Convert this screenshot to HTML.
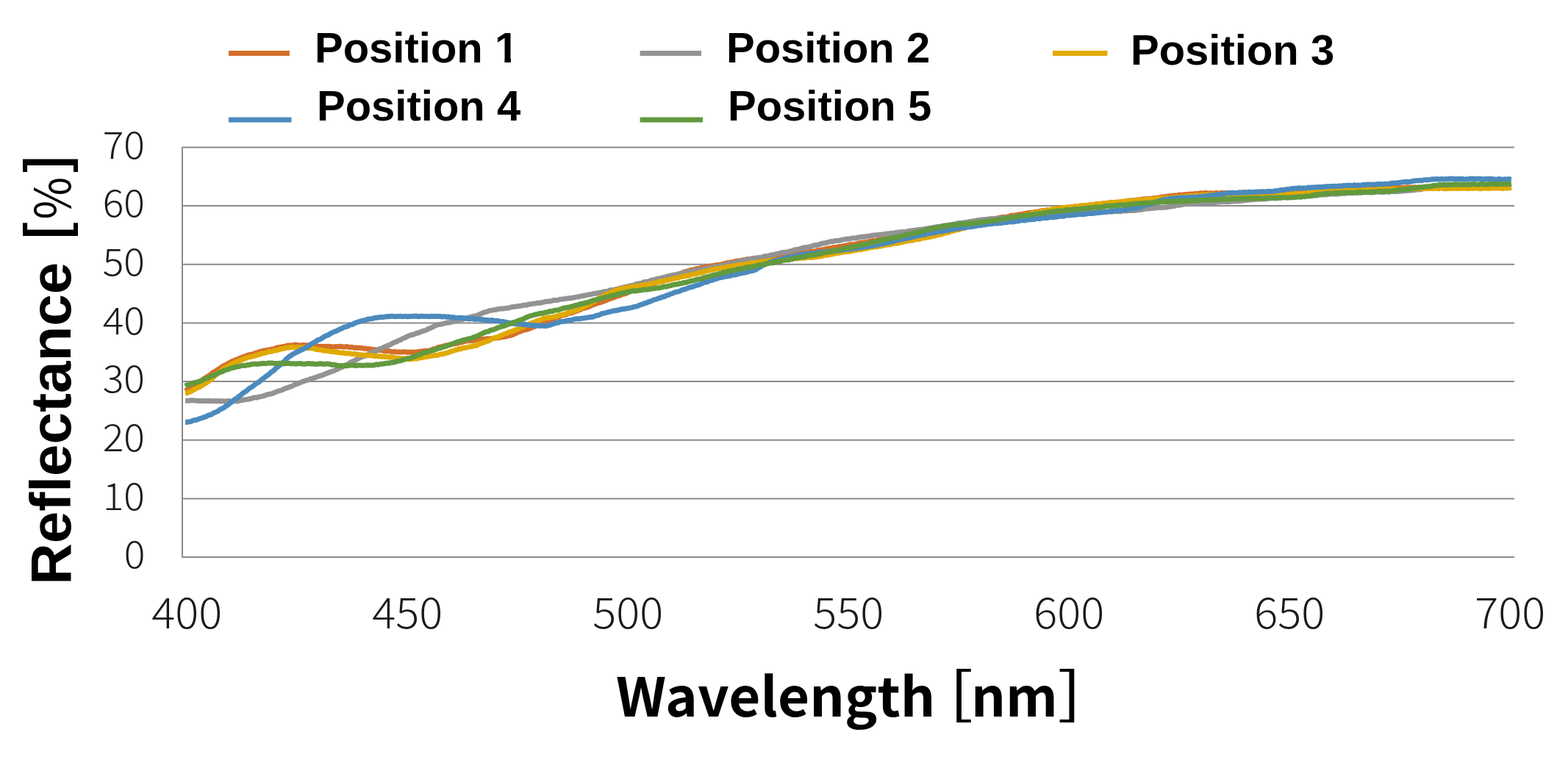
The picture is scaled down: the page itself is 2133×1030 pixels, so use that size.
<!DOCTYPE html>
<html><head><meta charset="utf-8"><style>
html,body{margin:0;padding:0;background:#fff;width:2133px;height:1030px;overflow:hidden}
svg{display:block}
.leg{font-family:"Liberation Sans",Arial,sans-serif;font-weight:bold;font-size:58px;fill:#000}
.yl{font-family:"Noto Sans CJK JP","Liberation Sans",sans-serif;font-weight:300;font-size:51px;fill:#1a1a1a;text-anchor:end}
.xl{font-family:"Noto Sans CJK JP","Liberation Sans",sans-serif;font-weight:300;font-size:57.5px;fill:#1a1a1a;text-anchor:middle}
.yt{font-family:"Liberation Sans",Arial,sans-serif;font-weight:bold;font-size:77px;fill:#000}
.xt{font-family:"Liberation Sans","Noto Sans CJK JP",sans-serif;font-weight:bold;font-size:73.5px;fill:#000}
.xt2{font-family:"Noto Sans CJK JP","Liberation Sans",sans-serif;font-weight:bold;font-size:73.5px;fill:#000}
.ytb{font-family:"Noto Sans CJK JP","Liberation Sans",sans-serif;font-weight:700;font-size:77px;fill:#000}
.ytp{font-family:"Noto Sans CJK JP","Liberation Sans",sans-serif;font-weight:400;font-size:77px;fill:#000}
.br{font-family:"Noto Sans CJK JP","Liberation Sans",sans-serif;font-weight:400;font-size:76px;fill:#000}
</style></head><body>
<svg width="2133" height="1030" viewBox="0 0 2133 1030">
<rect width="2133" height="1030" fill="#fff"/>
<g stroke="#8a8a8a" stroke-width="2" fill="none"><line x1="248" y1="678.4" x2="2060" y2="678.4"/><line x1="248" y1="598.7" x2="2060" y2="598.7"/><line x1="248" y1="519.1" x2="2060" y2="519.1"/><line x1="248" y1="439.4" x2="2060" y2="439.4"/><line x1="248" y1="359.8" x2="2060" y2="359.8"/><line x1="248" y1="280.1" x2="2060" y2="280.1"/><line x1="248" y1="200.5" x2="2060" y2="200.5"/>
<line x1="248" y1="200" x2="248" y2="759"/>
<line x1="247" y1="758" x2="2060" y2="758"/></g>
<g fill="none" stroke-width="7" stroke-linejoin="round" stroke-linecap="butt">
<path d="M252.0 532.0L254.5 530.5L257.0 529.3L259.5 527.3L262.0 525.8L264.5 524.2L267.0 522.3L269.5 520.9L272.0 519.4L274.5 517.9L277.0 515.6L279.5 514.2L282.0 512.3L284.5 511.1L287.0 509.2L289.5 506.8L292.0 505.9L294.5 504.2L297.0 502.4L299.5 500.9L302.0 499.1L304.5 497.5L307.0 496.6L309.5 494.9L312.0 493.7L314.5 492.4L317.0 491.0L319.5 490.2L322.0 489.1L324.5 488.4L327.0 487.0L329.5 486.2L332.0 485.1L334.5 484.4L337.0 483.4L339.5 482.5L342.0 482.3L344.5 481.6L347.0 480.7L349.5 479.9L352.0 478.9L354.5 478.2L357.0 477.7L359.5 476.9L362.0 476.9L364.5 476.0L367.0 475.9L369.5 474.9L372.0 474.9L374.5 474.2L377.0 472.9L379.5 472.5L382.0 472.6L384.5 471.6L387.0 471.6L389.5 470.6L392.0 469.9L394.5 470.1L397.0 470.0L399.5 469.4L402.0 469.1L404.5 469.4L407.0 470.0L409.5 469.9L412.0 469.4L414.5 469.7L417.0 469.7L419.5 469.9L422.0 470.7L424.5 470.3L427.0 470.8L429.5 470.9L432.0 470.9L434.5 471.5L437.0 471.1L439.5 471.6L442.0 471.2L444.5 471.5L447.0 471.3L449.5 471.4L452.0 472.0L454.5 471.9L457.0 471.4L459.5 471.9L462.0 471.3L464.5 471.5L467.0 472.0L469.5 471.9L472.0 471.6L474.5 472.6L477.0 472.2L479.5 472.5L482.0 473.2L484.5 473.1L487.0 473.3L489.5 473.3L492.0 473.5L494.5 474.2L497.0 474.1L499.5 474.7L502.0 474.8L504.5 475.1L507.0 475.8L509.5 475.6L512.0 476.0L514.5 476.6L517.0 476.3L519.5 476.6L522.0 477.6L524.5 477.8L527.0 477.6L529.5 477.7L532.0 478.4L534.5 478.8L537.0 478.2L539.5 479.1L542.0 479.1L544.5 479.0L547.0 478.9L549.5 478.7L552.0 478.7L554.5 479.6L557.0 479.0L559.5 479.3L562.0 478.9L564.5 479.2L567.0 478.9L569.5 478.4L572.0 478.1L574.5 478.3L577.0 477.4L579.5 477.3L582.0 477.2L584.5 476.9L587.0 476.1L589.5 475.0L592.0 474.8L594.5 473.3L597.0 472.4L599.5 471.9L602.0 471.5L604.5 470.5L607.0 470.0L609.5 469.6L612.0 469.2L614.5 468.2L617.0 467.8L619.5 467.7L622.0 467.3L624.5 466.4L627.0 466.0L629.5 465.4L632.0 464.5L634.5 464.0L637.0 463.5L639.5 463.9L642.0 463.4L644.5 463.3L647.0 462.2L649.5 462.4L652.0 462.0L654.5 462.0L657.0 461.4L659.5 461.8L662.0 460.7L664.5 460.9L667.0 460.8L669.5 460.7L672.0 460.3L674.5 459.9L677.0 459.7L679.5 459.4L682.0 458.6L684.5 458.4L687.0 458.2L689.5 457.6L692.0 456.7L694.5 456.4L697.0 455.7L699.5 454.5L702.0 453.5L704.5 452.2L707.0 451.3L709.5 450.4L712.0 449.1L714.5 448.8L717.0 448.3L719.5 447.4L722.0 446.4L724.5 445.2L727.0 444.6L729.5 443.4L732.0 442.3L734.5 441.6L737.0 439.8L739.5 439.3L742.0 437.6L744.5 437.0L747.0 435.8L749.5 434.6L752.0 434.1L754.5 433.0L757.0 432.2L759.5 431.6L762.0 430.2L764.5 429.2L767.0 428.6L769.5 428.2L772.0 427.0L774.5 426.1L777.0 426.0L779.5 424.9L782.0 423.9L784.5 423.4L787.0 422.0L789.5 421.4L792.0 420.0L794.5 419.3L797.0 418.7L799.5 417.9L802.0 416.9L804.5 415.5L807.0 414.8L809.5 413.7L812.0 412.7L814.5 412.1L817.0 411.5L819.5 410.7L822.0 409.7L824.5 409.0L827.0 407.6L829.5 406.6L832.0 405.9L834.5 404.9L837.0 403.9L839.5 403.2L842.0 402.5L844.5 401.5L847.0 400.4L849.5 400.0L852.0 399.2L854.5 397.9L857.0 396.7L859.5 395.8L862.0 395.6L864.5 394.0L867.0 393.8L869.5 392.8L872.0 391.8L874.5 391.4L877.0 389.9L879.5 389.1L882.0 388.6L884.5 387.4L887.0 387.3L889.5 385.9L892.0 385.0L894.5 384.0L897.0 383.7L899.5 382.6L902.0 381.9L904.5 381.0L907.0 380.1L909.5 379.3L912.0 378.0L914.5 376.5L917.0 375.7L919.5 374.4L922.0 373.3L924.5 372.7L927.0 371.9L929.5 370.5L932.0 369.7L934.5 369.0L937.0 368.5L939.5 367.6L942.0 367.1L944.5 366.6L947.0 365.7L949.5 365.6L952.0 365.1L954.5 363.9L957.0 364.2L959.5 363.6L962.0 362.6L964.5 362.4L967.0 362.1L969.5 362.0L972.0 361.0L974.5 360.8L977.0 360.6L979.5 360.1L982.0 359.7L984.5 358.8L987.0 358.4L989.5 357.5L992.0 357.5L994.5 357.0L997.0 356.4L999.5 355.9L1002.0 355.0L1004.5 355.1L1007.0 354.7L1009.5 354.3L1012.0 353.5L1014.5 353.3L1017.0 352.6L1019.5 352.7L1022.0 352.4L1024.5 351.6L1027.0 351.1L1029.5 351.1L1032.0 350.9L1034.5 350.9L1037.0 350.3L1039.5 349.6L1042.0 350.1L1044.5 349.1L1047.0 349.5L1049.5 348.7L1052.0 348.6L1054.5 348.7L1057.0 347.9L1059.5 347.7L1062.0 347.7L1064.5 347.7L1067.0 347.5L1069.5 347.1L1072.0 347.1L1074.5 346.4L1077.0 346.6L1079.5 345.5L1082.0 345.3L1084.5 345.3L1087.0 344.8L1089.5 344.8L1092.0 344.4L1094.5 343.9L1097.0 343.8L1099.5 343.1L1102.0 342.5L1104.5 342.1L1107.0 342.1L1109.5 341.7L1112.0 340.6L1114.5 340.7L1117.0 340.3L1119.5 339.5L1122.0 339.1L1124.5 338.3L1127.0 338.1L1129.5 337.6L1132.0 337.3L1134.5 336.4L1137.0 336.8L1139.5 335.9L1142.0 335.4L1144.5 335.3L1147.0 334.7L1149.5 334.2L1152.0 333.9L1154.5 333.0L1157.0 333.0L1159.5 332.4L1162.0 332.5L1164.5 332.0L1167.0 331.0L1169.5 330.8L1172.0 330.0L1174.5 329.9L1177.0 329.8L1179.5 329.4L1182.0 328.6L1184.5 328.1L1187.0 327.6L1189.5 327.5L1192.0 327.4L1194.5 326.3L1197.0 326.4L1199.5 325.4L1202.0 325.1L1204.5 324.7L1207.0 324.7L1209.5 324.0L1212.0 323.6L1214.5 323.4L1217.0 322.6L1219.5 322.7L1222.0 321.8L1224.5 321.7L1227.0 321.0L1229.5 320.6L1232.0 320.4L1234.5 319.9L1237.0 319.4L1239.5 319.0L1242.0 318.7L1244.5 317.9L1247.0 317.5L1249.5 317.4L1252.0 316.9L1254.5 316.3L1257.0 316.2L1259.5 315.5L1262.0 315.2L1264.5 314.1L1267.0 314.1L1269.5 313.7L1272.0 313.2L1274.5 312.2L1277.0 311.7L1279.5 311.8L1282.0 310.6L1284.5 310.8L1287.0 310.2L1289.5 309.0L1292.0 308.6L1294.5 308.6L1297.0 307.6L1299.5 307.0L1302.0 307.1L1304.5 306.3L1307.0 306.1L1309.5 305.0L1312.0 304.8L1314.5 304.6L1317.0 303.5L1319.5 303.2L1322.0 303.2L1324.5 302.9L1327.0 302.5L1329.5 301.3L1332.0 301.2L1334.5 301.0L1337.0 300.3L1339.5 300.0L1342.0 299.1L1344.5 298.6L1347.0 298.2L1349.5 297.7L1352.0 297.7L1354.5 297.3L1357.0 296.9L1359.5 296.1L1362.0 295.7L1364.5 295.3L1367.0 295.4L1369.5 295.1L1372.0 294.7L1374.5 293.5L1377.0 293.1L1379.5 293.4L1382.0 292.6L1384.5 292.5L1387.0 291.7L1389.5 291.4L1392.0 291.0L1394.5 290.5L1397.0 290.3L1399.5 289.4L1402.0 289.6L1404.5 289.4L1407.0 288.4L1409.5 288.3L1412.0 288.1L1414.5 287.5L1417.0 286.9L1419.5 286.5L1422.0 286.5L1424.5 285.7L1427.0 286.1L1429.5 285.7L1432.0 285.2L1434.5 285.0L1437.0 284.5L1439.5 284.0L1442.0 283.8L1444.5 283.4L1447.0 283.5L1449.5 283.1L1452.0 282.3L1454.5 282.6L1457.0 282.1L1459.5 281.8L1462.0 281.6L1464.5 280.9L1467.0 281.1L1469.5 280.8L1472.0 280.3L1474.5 280.1L1477.0 279.8L1479.5 279.2L1482.0 279.2L1484.5 278.4L1487.0 278.4L1489.5 278.2L1492.0 277.5L1494.5 277.6L1497.0 277.6L1499.5 277.3L1502.0 276.7L1504.5 277.1L1507.0 276.6L1509.5 276.0L1512.0 276.0L1514.5 275.7L1517.0 275.4L1519.5 275.0L1522.0 275.3L1524.5 274.7L1527.0 274.5L1529.5 274.3L1532.0 274.3L1534.5 273.1L1537.0 273.4L1539.5 273.3L1542.0 272.6L1544.5 272.4L1547.0 271.8L1549.5 271.7L1552.0 271.6L1554.5 271.0L1557.0 270.8L1559.5 271.1L1562.0 270.5L1564.5 270.2L1567.0 270.3L1569.5 269.6L1572.0 269.7L1574.5 269.0L1577.0 268.9L1579.5 267.9L1582.0 268.1L1584.5 267.9L1587.0 267.0L1589.5 267.5L1592.0 266.5L1594.5 266.5L1597.0 265.9L1599.5 266.0L1602.0 265.8L1604.5 265.0L1607.0 265.6L1609.5 264.9L1612.0 264.7L1614.5 264.6L1617.0 264.2L1619.5 263.9L1622.0 264.0L1624.5 263.8L1627.0 263.4L1629.5 263.6L1632.0 263.1L1634.5 262.8L1637.0 262.9L1639.5 262.6L1642.0 262.6L1644.5 263.1L1647.0 262.7L1649.5 263.1L1652.0 263.0L1654.5 262.3L1657.0 263.1L1659.5 263.0L1662.0 262.2L1664.5 262.9L1667.0 262.4L1669.5 262.5L1672.0 262.9L1674.5 262.2L1677.0 262.4L1679.5 262.7L1682.0 262.5L1684.5 262.2L1687.0 262.7L1689.5 262.5L1692.0 262.3L1694.5 261.8L1697.0 262.2L1699.5 262.0L1702.0 261.7L1704.5 261.5L1707.0 261.9L1709.5 261.4L1712.0 261.6L1714.5 261.8L1717.0 261.5L1719.5 261.3L1722.0 261.5L1724.5 261.2L1727.0 261.5L1729.5 261.2L1732.0 261.5L1734.5 261.4L1737.0 261.1L1739.5 260.6L1742.0 260.3L1744.5 261.0L1747.0 260.8L1749.5 260.5L1752.0 260.2L1754.5 260.0L1757.0 260.3L1759.5 260.1L1762.0 260.0L1764.5 259.9L1767.0 259.9L1769.5 259.3L1772.0 259.2L1774.5 259.7L1777.0 259.5L1779.5 259.4L1782.0 258.5L1784.5 258.3L1787.0 258.4L1789.5 258.3L1792.0 258.4L1794.5 257.7L1797.0 258.0L1799.5 257.4L1802.0 257.3L1804.5 257.6L1807.0 257.4L1809.5 257.3L1812.0 256.9L1814.5 256.9L1817.0 256.5L1819.5 256.5L1822.0 256.8L1824.5 256.8L1827.0 256.0L1829.5 255.9L1832.0 256.5L1834.5 256.2L1837.0 256.3L1839.5 255.7L1842.0 255.9L1844.5 255.7L1847.0 256.2L1849.5 255.7L1852.0 256.0L1854.5 256.2L1857.0 255.6L1859.5 255.8L1862.0 255.9L1864.5 256.0L1867.0 255.6L1869.5 255.5L1872.0 255.2L1874.5 255.9L1877.0 255.1L1879.5 255.1L1882.0 255.5L1884.5 255.4L1887.0 255.6L1889.5 255.2L1892.0 255.6L1894.5 254.9L1897.0 255.0L1899.5 255.4L1902.0 254.9L1904.5 255.1L1907.0 255.4L1909.5 255.4L1912.0 255.0L1914.5 254.8L1917.0 255.0L1919.5 255.3L1922.0 255.0L1924.5 254.8L1927.0 255.3L1929.5 255.1L1932.0 255.4L1934.5 255.4L1937.0 255.4L1939.5 255.0L1942.0 255.3L1944.5 254.8L1947.0 254.8L1949.5 254.9L1952.0 255.4L1954.5 255.4L1957.0 254.8L1959.5 254.9L1962.0 254.9L1964.5 254.9L1967.0 254.9L1969.5 254.9L1972.0 254.7L1974.5 255.1L1977.0 255.3L1979.5 255.0L1982.0 255.3L1984.5 255.1L1987.0 254.7L1989.5 255.2L1992.0 255.3L1994.5 254.8L1997.0 254.6L1999.5 255.0L2002.0 255.0L2004.5 255.1L2007.0 255.4L2009.5 255.1L2012.0 255.3L2014.5 254.6L2017.0 255.0L2019.5 255.3L2022.0 254.6L2024.5 254.6L2027.0 255.2L2029.5 255.4L2032.0 254.6L2034.5 255.1L2037.0 254.7L2039.5 255.2L2042.0 255.1L2044.5 254.8L2047.0 254.7L2049.5 255.2L2052.0 255.0L2054.5 255.2L2056.0 254.9" stroke="#D46F2B"/>
<path d="M252.0 545.0L254.5 545.2L257.0 545.3L259.5 544.8L262.0 544.8L264.5 545.1L267.0 545.1L269.5 545.6L272.0 545.5L274.5 545.5L277.0 545.5L279.5 545.6L282.0 545.2L284.5 545.5L287.0 545.3L289.5 546.0L292.0 545.3L294.5 546.0L297.0 545.4L299.5 546.0L302.0 545.7L304.5 545.8L307.0 546.2L309.5 545.5L312.0 545.5L314.5 546.3L317.0 545.9L319.5 545.4L322.0 546.0L324.5 545.7L327.0 544.7L329.5 544.6L332.0 543.9L334.5 543.6L337.0 543.4L339.5 542.5L342.0 542.4L344.5 541.3L347.0 540.9L349.5 541.0L352.0 540.1L354.5 539.5L357.0 539.1L359.5 538.3L362.0 537.5L364.5 536.4L367.0 536.3L369.5 535.7L372.0 534.9L374.5 533.7L377.0 532.6L379.5 531.8L382.0 531.2L384.5 530.3L387.0 528.9L389.5 528.1L392.0 527.2L394.5 526.3L397.0 525.5L399.5 524.2L402.0 522.7L404.5 522.4L407.0 521.1L409.5 520.2L412.0 519.0L414.5 518.3L417.0 517.4L419.5 517.0L422.0 515.6L424.5 515.2L427.0 514.1L429.5 513.8L432.0 512.4L434.5 511.7L437.0 510.9L439.5 510.3L442.0 508.8L444.5 508.2L447.0 507.0L449.5 506.1L452.0 505.2L454.5 504.5L457.0 503.0L459.5 502.3L462.0 500.5L464.5 500.0L467.0 498.3L469.5 496.9L472.0 496.2L474.5 495.0L477.0 492.9L479.5 491.8L482.0 491.0L484.5 489.4L487.0 488.1L489.5 486.7L492.0 485.6L494.5 485.0L497.0 484.2L499.5 483.1L502.0 481.5L504.5 480.0L507.0 479.1L509.5 478.4L512.0 477.4L514.5 476.1L517.0 474.6L519.5 473.7L522.0 472.6L524.5 471.6L527.0 470.2L529.5 469.7L532.0 468.5L534.5 466.7L537.0 465.7L539.5 465.0L542.0 463.3L544.5 462.7L547.0 461.1L549.5 460.1L552.0 459.0L554.5 457.5L557.0 456.6L559.5 455.7L562.0 455.2L564.5 454.4L567.0 453.1L569.5 452.9L572.0 451.7L574.5 450.7L577.0 449.9L579.5 449.4L582.0 447.8L584.5 446.7L587.0 445.7L589.5 444.5L592.0 443.2L594.5 442.1L597.0 441.6L599.5 441.3L602.0 440.7L604.5 440.1L607.0 439.4L609.5 439.0L612.0 438.8L614.5 438.1L617.0 437.0L619.5 437.0L622.0 436.5L624.5 435.8L627.0 435.2L629.5 434.6L632.0 433.6L634.5 433.2L637.0 432.2L639.5 431.4L642.0 430.9L644.5 430.2L647.0 430.0L649.5 429.0L652.0 427.9L654.5 427.0L657.0 425.5L659.5 424.9L662.0 424.2L664.5 423.2L667.0 422.5L669.5 422.1L672.0 421.6L674.5 421.5L677.0 420.6L679.5 420.2L682.0 420.0L684.5 419.9L687.0 419.6L689.5 419.2L692.0 419.1L694.5 418.2L697.0 417.5L699.5 417.6L702.0 417.1L704.5 416.5L707.0 416.5L709.5 415.9L712.0 415.4L714.5 415.0L717.0 415.2L719.5 413.9L722.0 413.8L724.5 413.4L727.0 412.9L729.5 412.7L732.0 412.1L734.5 412.3L737.0 411.5L739.5 411.2L742.0 410.3L744.5 410.2L747.0 409.9L749.5 409.7L752.0 408.8L754.5 408.5L757.0 408.5L759.5 408.1L762.0 407.2L764.5 407.1L767.0 406.9L769.5 406.3L772.0 406.1L774.5 405.8L777.0 405.7L779.5 404.9L782.0 404.7L784.5 404.0L787.0 403.9L789.5 403.1L792.0 402.8L794.5 402.3L797.0 401.8L799.5 401.1L802.0 400.7L804.5 400.5L807.0 399.7L809.5 399.0L812.0 399.2L814.5 398.2L817.0 398.3L819.5 397.4L822.0 396.7L824.5 396.6L827.0 396.1L829.5 395.1L832.0 394.4L834.5 394.3L837.0 393.9L839.5 393.2L842.0 392.8L844.5 391.9L847.0 391.5L849.5 390.6L852.0 390.2L854.5 389.6L857.0 389.0L859.5 388.4L862.0 388.2L864.5 386.9L867.0 386.3L869.5 385.7L872.0 385.6L874.5 384.5L877.0 383.4L879.5 383.4L882.0 382.8L884.5 382.1L887.0 381.1L889.5 380.8L892.0 379.8L894.5 379.1L897.0 379.1L899.5 378.5L902.0 377.4L904.5 377.4L907.0 376.1L909.5 375.8L912.0 374.9L914.5 374.5L917.0 374.0L919.5 373.9L922.0 373.0L924.5 372.4L927.0 371.8L929.5 371.4L932.0 371.4L934.5 370.6L937.0 369.6L939.5 369.7L942.0 369.0L944.5 368.4L947.0 368.0L949.5 367.6L952.0 367.3L954.5 366.5L957.0 366.1L959.5 365.5L962.0 365.2L964.5 364.5L967.0 364.0L969.5 363.6L972.0 363.3L974.5 362.4L977.0 362.5L979.5 361.6L982.0 361.4L984.5 360.7L987.0 360.4L989.5 359.6L992.0 358.8L994.5 358.3L997.0 357.9L999.5 357.5L1002.0 357.0L1004.5 355.8L1007.0 355.2L1009.5 354.7L1012.0 354.1L1014.5 353.5L1017.0 353.0L1019.5 352.7L1022.0 352.0L1024.5 352.0L1027.0 351.5L1029.5 351.3L1032.0 350.9L1034.5 350.2L1037.0 350.0L1039.5 348.7L1042.0 348.4L1044.5 348.5L1047.0 347.6L1049.5 346.8L1052.0 346.8L1054.5 345.9L1057.0 345.5L1059.5 344.8L1062.0 344.1L1064.5 343.5L1067.0 343.4L1069.5 343.1L1072.0 342.6L1074.5 341.8L1077.0 341.4L1079.5 340.4L1082.0 339.7L1084.5 339.7L1087.0 338.9L1089.5 338.4L1092.0 337.2L1094.5 336.8L1097.0 336.5L1099.5 336.1L1102.0 335.6L1104.5 334.9L1107.0 334.0L1109.5 333.4L1112.0 333.2L1114.5 332.8L1117.0 331.7L1119.5 330.9L1122.0 330.7L1124.5 330.1L1127.0 329.5L1129.5 328.8L1132.0 328.5L1134.5 328.3L1137.0 327.4L1139.5 327.4L1142.0 327.3L1144.5 326.7L1147.0 325.9L1149.5 325.7L1152.0 325.0L1154.5 325.2L1157.0 324.7L1159.5 324.0L1162.0 324.0L1164.5 323.7L1167.0 323.3L1169.5 322.8L1172.0 322.4L1174.5 322.1L1177.0 322.3L1179.5 321.4L1182.0 321.2L1184.5 320.8L1187.0 320.3L1189.5 320.1L1192.0 319.7L1194.5 319.5L1197.0 319.2L1199.5 318.9L1202.0 319.1L1204.5 318.2L1207.0 318.0L1209.5 318.0L1212.0 317.4L1214.5 317.2L1217.0 317.1L1219.5 316.2L1222.0 316.5L1224.5 315.7L1227.0 315.5L1229.5 315.7L1232.0 315.5L1234.5 314.9L1237.0 314.1L1239.5 314.0L1242.0 313.5L1244.5 313.7L1247.0 312.8L1249.5 312.4L1252.0 312.4L1254.5 312.0L1257.0 311.6L1259.5 311.1L1262.0 311.1L1264.5 310.3L1267.0 310.3L1269.5 309.4L1272.0 309.1L1274.5 308.6L1277.0 308.5L1279.5 308.1L1282.0 307.2L1284.5 307.1L1287.0 306.8L1289.5 306.2L1292.0 306.0L1294.5 305.5L1297.0 305.2L1299.5 304.5L1302.0 304.0L1304.5 303.4L1307.0 303.8L1309.5 303.3L1312.0 302.6L1314.5 302.7L1317.0 302.2L1319.5 301.2L1322.0 301.4L1324.5 300.6L1327.0 300.2L1329.5 299.8L1332.0 299.6L1334.5 299.0L1337.0 298.8L1339.5 298.5L1342.0 298.5L1344.5 298.1L1347.0 297.8L1349.5 298.2L1352.0 297.5L1354.5 297.4L1357.0 297.2L1359.5 297.3L1362.0 296.4L1364.5 296.2L1367.0 296.6L1369.5 296.4L1372.0 296.2L1374.5 295.6L1377.0 295.3L1379.5 294.9L1382.0 295.3L1384.5 295.0L1387.0 294.6L1389.5 294.6L1392.0 294.0L1394.5 294.0L1397.0 294.2L1399.5 293.3L1402.0 293.6L1404.5 293.0L1407.0 293.4L1409.5 293.2L1412.0 292.9L1414.5 292.5L1417.0 292.0L1419.5 292.3L1422.0 292.0L1424.5 291.9L1427.0 291.4L1429.5 292.0L1432.0 291.5L1434.5 291.4L1437.0 291.5L1439.5 291.4L1442.0 290.9L1444.5 290.8L1447.0 290.9L1449.5 290.4L1452.0 290.7L1454.5 289.8L1457.0 290.4L1459.5 290.0L1462.0 290.0L1464.5 290.2L1467.0 289.4L1469.5 289.5L1472.0 289.7L1474.5 289.6L1477.0 289.3L1479.5 289.4L1482.0 289.2L1484.5 289.3L1487.0 289.0L1489.5 288.7L1492.0 288.5L1494.5 288.2L1497.0 288.2L1499.5 288.0L1502.0 288.7L1504.5 287.9L1507.0 288.2L1509.5 287.7L1512.0 288.3L1514.5 287.8L1517.0 287.3L1519.5 287.8L1522.0 287.7L1524.5 287.7L1527.0 286.9L1529.5 286.9L1532.0 287.0L1534.5 286.5L1537.0 286.6L1539.5 286.5L1542.0 286.4L1544.5 286.2L1547.0 285.9L1549.5 285.3L1552.0 285.4L1554.5 284.8L1557.0 284.3L1559.5 283.9L1562.0 284.1L1564.5 283.6L1567.0 283.1L1569.5 283.2L1572.0 282.9L1574.5 282.6L1577.0 282.6L1579.5 282.4L1582.0 282.1L1584.5 282.3L1587.0 282.0L1589.5 281.1L1592.0 281.3L1594.5 280.4L1597.0 280.5L1599.5 279.3L1602.0 279.1L1604.5 279.2L1607.0 278.6L1609.5 278.3L1612.0 277.5L1614.5 277.2L1617.0 277.8L1619.5 276.8L1622.0 276.7L1624.5 276.8L1627.0 277.0L1629.5 276.7L1632.0 276.9L1634.5 276.5L1637.0 276.1L1639.5 276.4L1642.0 275.8L1644.5 275.4L1647.0 276.1L1649.5 275.9L1652.0 275.6L1654.5 275.3L1657.0 274.9L1659.5 274.8L1662.0 274.5L1664.5 274.3L1667.0 274.5L1669.5 274.7L1672.0 274.6L1674.5 274.0L1677.0 274.0L1679.5 273.6L1682.0 273.7L1684.5 273.5L1687.0 273.5L1689.5 273.2L1692.0 272.8L1694.5 272.6L1697.0 272.0L1699.5 272.1L1702.0 271.9L1704.5 271.4L1707.0 271.2L1709.5 271.2L1712.0 270.8L1714.5 271.0L1717.0 270.6L1719.5 271.0L1722.0 270.5L1724.5 270.2L1727.0 269.9L1729.5 269.7L1732.0 269.4L1734.5 269.9L1737.0 269.7L1739.5 269.2L1742.0 269.1L1744.5 268.4L1747.0 268.6L1749.5 268.1L1752.0 268.1L1754.5 268.1L1757.0 267.6L1759.5 267.5L1762.0 267.8L1764.5 267.4L1767.0 267.6L1769.5 266.7L1772.0 266.5L1774.5 267.1L1777.0 266.6L1779.5 266.5L1782.0 266.2L1784.5 265.7L1787.0 266.3L1789.5 265.7L1792.0 265.9L1794.5 265.0L1797.0 265.0L1799.5 265.1L1802.0 264.6L1804.5 265.0L1807.0 264.3L1809.5 264.0L1812.0 263.9L1814.5 263.8L1817.0 264.3L1819.5 264.0L1822.0 263.7L1824.5 263.3L1827.0 262.8L1829.5 263.3L1832.0 262.6L1834.5 262.5L1837.0 262.6L1839.5 262.8L1842.0 262.1L1844.5 261.9L1847.0 262.6L1849.5 261.7L1852.0 262.3L1854.5 261.6L1857.0 261.7L1859.5 261.6L1862.0 261.7L1864.5 262.1L1867.0 261.9L1869.5 261.6L1872.0 261.1L1874.5 261.1L1877.0 261.2L1879.5 261.5L1882.0 261.6L1884.5 260.7L1887.0 260.9L1889.5 261.4L1892.0 260.5L1894.5 260.4L1897.0 260.4L1899.5 260.9L1902.0 260.2L1904.5 260.4L1907.0 259.7L1909.5 260.0L1912.0 259.3L1914.5 259.4L1917.0 259.3L1919.5 259.1L1922.0 258.5L1924.5 258.7L1927.0 257.8L1929.5 258.0L1932.0 257.7L1934.5 257.4L1937.0 256.3L1939.5 256.2L1942.0 256.3L1944.5 256.2L1947.0 255.3L1949.5 255.5L1952.0 255.1L1954.5 254.4L1957.0 254.3L1959.5 254.1L1962.0 254.1L1964.5 254.6L1967.0 254.3L1969.5 254.3L1972.0 254.2L1974.5 253.6L1977.0 253.7L1979.5 253.6L1982.0 253.5L1984.5 252.8L1987.0 253.4L1989.5 252.6L1992.0 252.8L1994.5 252.9L1997.0 252.8L1999.5 252.7L2002.0 252.2L2004.5 252.0L2007.0 252.3L2009.5 251.6L2012.0 252.3L2014.5 251.7L2017.0 251.6L2019.5 251.5L2022.0 251.8L2024.5 251.2L2027.0 251.1L2029.5 251.0L2032.0 251.0L2034.5 251.4L2037.0 251.6L2039.5 250.7L2042.0 251.1L2044.5 250.9L2047.0 250.9L2049.5 250.9L2052.0 250.7L2054.5 250.9L2056.0 250.8" stroke="#939393"/>
<path d="M252.0 535.2L254.5 534.7L257.0 533.7L259.5 532.8L262.0 531.1L264.5 529.9L267.0 528.5L269.5 527.3L272.0 526.4L274.5 524.4L277.0 523.3L279.5 521.5L282.0 519.9L284.5 518.1L287.0 516.5L289.5 514.1L292.0 511.3L294.5 509.2L297.0 506.9L299.5 505.4L302.0 503.4L304.5 501.6L307.0 500.1L309.5 498.6L312.0 497.5L314.5 496.0L317.0 494.3L319.5 493.7L322.0 492.2L324.5 491.4L327.0 490.3L329.5 489.2L332.0 488.2L334.5 487.4L337.0 486.5L339.5 485.5L342.0 485.4L344.5 484.6L347.0 484.1L349.5 483.1L352.0 482.3L354.5 481.8L357.0 480.7L359.5 480.5L362.0 479.8L364.5 478.9L367.0 478.4L369.5 478.2L372.0 477.3L374.5 476.9L377.0 476.5L379.5 475.7L382.0 474.9L384.5 474.6L387.0 473.9L389.5 473.4L392.0 473.0L394.5 472.8L397.0 472.3L399.5 472.6L402.0 472.8L404.5 472.3L407.0 472.7L409.5 473.0L412.0 472.4L414.5 472.7L417.0 473.5L419.5 473.8L422.0 473.8L424.5 473.7L427.0 474.3L429.5 475.2L432.0 475.6L434.5 476.0L437.0 475.9L439.5 476.9L442.0 476.9L444.5 477.6L447.0 477.4L449.5 478.5L452.0 478.5L454.5 478.9L457.0 478.8L459.5 479.5L462.0 479.7L464.5 480.0L467.0 480.1L469.5 480.7L472.0 480.7L474.5 480.9L477.0 481.1L479.5 481.8L482.0 481.6L484.5 481.9L487.0 482.1L489.5 482.8L492.0 483.0L494.5 483.2L497.0 483.0L499.5 483.6L502.0 483.7L504.5 483.7L507.0 483.8L509.5 484.9L512.0 484.3L514.5 484.7L517.0 484.8L519.5 485.3L522.0 485.0L524.5 485.5L527.0 485.6L529.5 486.2L532.0 485.7L534.5 486.2L537.0 486.6L539.5 487.3L542.0 487.2L544.5 487.5L547.0 488.0L549.5 487.9L552.0 487.9L554.5 488.5L557.0 488.9L559.5 488.6L562.0 488.0L564.5 488.1L567.0 488.0L569.5 487.1L572.0 486.9L574.5 486.3L577.0 485.8L579.5 485.5L582.0 485.0L584.5 484.8L587.0 484.1L589.5 484.0L592.0 483.3L594.5 483.4L597.0 482.8L599.5 481.8L602.0 482.0L604.5 480.9L607.0 480.5L609.5 479.8L612.0 478.8L614.5 477.9L617.0 477.2L619.5 476.1L622.0 476.0L624.5 474.6L627.0 474.7L629.5 473.6L632.0 473.3L634.5 473.0L637.0 472.2L639.5 471.8L642.0 471.4L644.5 470.7L647.0 470.3L649.5 469.6L652.0 467.8L654.5 467.3L657.0 466.0L659.5 465.6L662.0 464.2L664.5 463.8L667.0 462.5L669.5 461.2L672.0 460.0L674.5 459.2L677.0 458.8L679.5 457.1L682.0 456.4L684.5 455.2L687.0 454.2L689.5 453.6L692.0 452.1L694.5 451.6L697.0 450.5L699.5 449.8L702.0 448.4L704.5 447.8L707.0 446.3L709.5 445.4L712.0 444.4L714.5 443.6L717.0 442.6L719.5 440.9L722.0 439.9L724.5 439.2L727.0 438.4L729.5 437.1L732.0 436.0L734.5 435.7L737.0 434.3L739.5 433.5L742.0 432.9L744.5 432.3L747.0 432.4L749.5 431.4L752.0 431.4L754.5 431.0L757.0 430.4L759.5 429.6L762.0 428.6L764.5 428.1L767.0 427.6L769.5 426.7L772.0 425.6L774.5 425.2L777.0 423.8L779.5 423.2L782.0 422.9L784.5 421.6L787.0 420.5L789.5 420.0L792.0 418.6L794.5 417.1L797.0 415.8L799.5 414.7L802.0 413.3L804.5 412.4L807.0 410.3L809.5 409.3L812.0 407.8L814.5 405.9L817.0 405.0L819.5 403.4L822.0 401.9L824.5 400.5L827.0 399.5L829.5 398.8L832.0 397.4L834.5 396.1L837.0 395.3L839.5 394.6L842.0 393.7L844.5 393.4L847.0 392.4L849.5 392.6L852.0 391.5L854.5 390.9L857.0 390.9L859.5 390.3L862.0 390.4L864.5 389.6L867.0 389.3L869.5 389.1L872.0 388.2L874.5 388.3L877.0 387.8L879.5 387.2L882.0 387.2L884.5 385.9L887.0 386.1L889.5 385.0L892.0 385.1L894.5 383.9L897.0 383.3L899.5 383.1L902.0 383.0L904.5 381.8L907.0 381.4L909.5 381.0L912.0 380.1L914.5 379.7L917.0 378.7L919.5 378.5L922.0 378.2L924.5 377.2L927.0 376.6L929.5 375.8L932.0 375.9L934.5 375.0L937.0 374.9L939.5 374.2L942.0 373.0L944.5 373.1L947.0 372.6L949.5 371.9L952.0 371.3L954.5 370.6L957.0 370.0L959.5 369.4L962.0 368.7L964.5 367.9L967.0 367.2L969.5 367.2L972.0 366.5L974.5 365.5L977.0 365.6L979.5 365.1L982.0 364.5L984.5 364.3L987.0 363.9L989.5 363.0L992.0 363.0L994.5 362.3L997.0 362.0L999.5 361.4L1002.0 361.5L1004.5 360.6L1007.0 360.7L1009.5 359.8L1012.0 359.7L1014.5 359.5L1017.0 359.0L1019.5 358.3L1022.0 357.7L1024.5 357.7L1027.0 357.2L1029.5 357.2L1032.0 356.8L1034.5 356.6L1037.0 355.8L1039.5 355.5L1042.0 355.3L1044.5 355.2L1047.0 354.4L1049.5 354.3L1052.0 354.0L1054.5 353.9L1057.0 353.7L1059.5 354.1L1062.0 353.2L1064.5 353.7L1067.0 352.9L1069.5 352.6L1072.0 353.1L1074.5 352.2L1077.0 352.0L1079.5 351.8L1082.0 351.6L1084.5 351.7L1087.0 351.3L1089.5 351.1L1092.0 350.7L1094.5 351.1L1097.0 350.3L1099.5 350.3L1102.0 350.3L1104.5 350.4L1107.0 349.9L1109.5 349.6L1112.0 349.3L1114.5 349.1L1117.0 348.8L1119.5 347.7L1122.0 347.2L1124.5 347.3L1127.0 346.8L1129.5 346.3L1132.0 346.1L1134.5 345.1L1137.0 345.1L1139.5 344.4L1142.0 344.0L1144.5 343.4L1147.0 343.0L1149.5 342.9L1152.0 342.5L1154.5 342.4L1157.0 341.4L1159.5 341.4L1162.0 340.4L1164.5 340.5L1167.0 339.6L1169.5 339.8L1172.0 339.5L1174.5 338.5L1177.0 338.5L1179.5 337.6L1182.0 337.3L1184.5 336.7L1187.0 336.5L1189.5 335.8L1192.0 336.0L1194.5 335.4L1197.0 334.9L1199.5 334.7L1202.0 333.9L1204.5 333.5L1207.0 333.1L1209.5 332.4L1212.0 332.7L1214.5 331.6L1217.0 331.1L1219.5 331.3L1222.0 330.9L1224.5 330.0L1227.0 329.6L1229.5 328.8L1232.0 328.2L1234.5 328.2L1237.0 327.5L1239.5 326.9L1242.0 327.1L1244.5 325.8L1247.0 325.6L1249.5 325.5L1252.0 325.0L1254.5 323.9L1257.0 324.0L1259.5 323.3L1262.0 322.8L1264.5 322.6L1267.0 321.9L1269.5 321.2L1272.0 320.8L1274.5 320.0L1277.0 319.5L1279.5 319.1L1282.0 318.3L1284.5 317.5L1287.0 316.5L1289.5 316.5L1292.0 315.4L1294.5 314.8L1297.0 314.0L1299.5 313.5L1302.0 312.7L1304.5 312.4L1307.0 311.5L1309.5 310.7L1312.0 310.3L1314.5 309.3L1317.0 308.7L1319.5 308.2L1322.0 307.6L1324.5 307.0L1327.0 306.5L1329.5 305.7L1332.0 305.1L1334.5 304.3L1337.0 303.8L1339.5 303.5L1342.0 303.0L1344.5 302.9L1347.0 301.7L1349.5 301.5L1352.0 301.4L1354.5 300.7L1357.0 300.6L1359.5 299.5L1362.0 299.6L1364.5 298.8L1367.0 298.5L1369.5 297.6L1372.0 297.4L1374.5 297.3L1377.0 296.8L1379.5 296.2L1382.0 295.5L1384.5 294.7L1387.0 294.7L1389.5 294.0L1392.0 293.6L1394.5 293.0L1397.0 292.2L1399.5 292.1L1402.0 290.8L1404.5 291.0L1407.0 289.6L1409.5 289.8L1412.0 288.9L1414.5 288.2L1417.0 288.1L1419.5 287.2L1422.0 286.7L1424.5 285.8L1427.0 286.0L1429.5 285.3L1432.0 284.5L1434.5 284.0L1437.0 283.9L1439.5 284.0L1442.0 283.6L1444.5 282.9L1447.0 282.2L1449.5 282.6L1452.0 281.7L1454.5 281.9L1457.0 281.4L1459.5 281.6L1462.0 280.6L1464.5 280.9L1467.0 280.6L1469.5 279.8L1472.0 280.0L1474.5 279.5L1477.0 279.6L1479.5 279.6L1482.0 279.1L1484.5 278.7L1487.0 278.6L1489.5 278.0L1492.0 277.9L1494.5 277.3L1497.0 277.6L1499.5 276.7L1502.0 276.9L1504.5 276.3L1507.0 276.4L1509.5 275.6L1512.0 275.3L1514.5 275.6L1517.0 275.4L1519.5 275.3L1522.0 274.9L1524.5 274.9L1527.0 273.9L1529.5 274.1L1532.0 273.8L1534.5 273.2L1537.0 272.9L1539.5 272.8L1542.0 272.9L1544.5 272.9L1547.0 272.6L1549.5 272.3L1552.0 271.7L1554.5 272.1L1557.0 271.7L1559.5 271.2L1562.0 271.4L1564.5 270.9L1567.0 270.8L1569.5 270.7L1572.0 270.8L1574.5 270.1L1577.0 270.2L1579.5 269.8L1582.0 270.0L1584.5 270.0L1587.0 269.3L1589.5 269.5L1592.0 269.1L1594.5 268.6L1597.0 268.5L1599.5 268.5L1602.0 268.5L1604.5 268.2L1607.0 267.4L1609.5 267.9L1612.0 267.5L1614.5 267.2L1617.0 266.8L1619.5 266.8L1622.0 266.8L1624.5 266.1L1627.0 265.8L1629.5 266.2L1632.0 265.6L1634.5 265.1L1637.0 265.7L1639.5 264.8L1642.0 264.9L1644.5 265.1L1647.0 265.0L1649.5 265.1L1652.0 264.4L1654.5 264.7L1657.0 264.9L1659.5 264.4L1662.0 264.6L1664.5 264.3L1667.0 264.4L1669.5 264.6L1672.0 264.0L1674.5 264.3L1677.0 263.9L1679.5 264.3L1682.0 264.2L1684.5 264.2L1687.0 264.2L1689.5 263.9L1692.0 264.2L1694.5 263.5L1697.0 263.9L1699.5 263.4L1702.0 263.9L1704.5 264.0L1707.0 263.6L1709.5 264.1L1712.0 263.7L1714.5 263.6L1717.0 263.6L1719.5 263.9L1722.0 263.8L1724.5 263.5L1727.0 263.7L1729.5 264.3L1732.0 263.9L1734.5 264.1L1737.0 263.9L1739.5 263.6L1742.0 264.1L1744.5 263.7L1747.0 263.6L1749.5 264.1L1752.0 264.2L1754.5 263.6L1757.0 264.4L1759.5 263.5L1762.0 263.5L1764.5 263.5L1767.0 263.8L1769.5 263.5L1772.0 263.2L1774.5 262.7L1777.0 262.8L1779.5 261.8L1782.0 262.3L1784.5 261.2L1787.0 261.0L1789.5 261.4L1792.0 261.2L1794.5 261.0L1797.0 260.4L1799.5 260.8L1802.0 260.3L1804.5 259.9L1807.0 259.7L1809.5 260.3L1812.0 259.3L1814.5 259.3L1817.0 259.3L1819.5 259.7L1822.0 259.5L1824.5 259.4L1827.0 259.1L1829.5 258.4L1832.0 259.0L1834.5 258.4L1837.0 259.0L1839.5 258.9L1842.0 258.1L1844.5 258.6L1847.0 258.1L1849.5 257.9L1852.0 258.5L1854.5 258.1L1857.0 257.9L1859.5 258.1L1862.0 257.6L1864.5 257.9L1867.0 258.0L1869.5 258.2L1872.0 257.4L1874.5 258.1L1877.0 257.3L1879.5 257.4L1882.0 257.5L1884.5 257.3L1887.0 257.2L1889.5 257.6L1892.0 257.4L1894.5 257.1L1897.0 257.4L1899.5 257.0L1902.0 257.4L1904.5 257.6L1907.0 257.1L1909.5 257.0L1912.0 257.0L1914.5 256.9L1917.0 256.8L1919.5 256.6L1922.0 256.6L1924.5 256.9L1927.0 256.7L1929.5 256.3L1932.0 256.3L1934.5 256.8L1937.0 256.4L1939.5 256.7L1942.0 256.5L1944.5 256.5L1947.0 256.2L1949.5 256.4L1952.0 256.2L1954.5 256.3L1957.0 256.7L1959.5 255.9L1962.0 256.0L1964.5 256.7L1967.0 256.7L1969.5 256.6L1972.0 256.6L1974.5 255.9L1977.0 256.5L1979.5 256.0L1982.0 256.6L1984.5 256.2L1987.0 256.3L1989.5 256.3L1992.0 256.0L1994.5 256.4L1997.0 256.6L1999.5 256.3L2002.0 256.2L2004.5 256.2L2007.0 256.0L2009.5 256.1L2012.0 256.6L2014.5 256.7L2017.0 256.2L2019.5 256.1L2022.0 256.1L2024.5 256.6L2027.0 256.0L2029.5 256.0L2032.0 256.1L2034.5 255.8L2037.0 255.9L2039.5 255.9L2042.0 256.3L2044.5 256.5L2047.0 255.9L2049.5 255.9L2052.0 256.1L2054.5 255.6L2056.0 255.6" stroke="#E0AA02"/>
<path d="M252.0 574.3L254.5 574.4L257.0 573.9L259.5 573.6L262.0 572.3L264.5 571.6L267.0 571.4L269.5 570.5L272.0 569.4L274.5 568.9L277.0 567.8L279.5 567.2L282.0 565.7L284.5 564.8L287.0 564.3L289.5 562.6L292.0 561.3L294.5 560.5L297.0 559.0L299.5 557.1L302.0 556.1L304.5 554.7L307.0 552.7L309.5 551.4L312.0 549.2L314.5 547.5L317.0 545.3L319.5 543.4L322.0 542.1L324.5 539.6L327.0 538.2L329.5 535.7L332.0 534.0L334.5 532.4L337.0 530.4L339.5 528.2L342.0 526.8L344.5 525.1L347.0 522.9L349.5 521.1L352.0 520.0L354.5 517.8L357.0 515.6L359.5 514.0L362.0 511.8L364.5 510.4L367.0 508.2L369.5 505.9L372.0 504.5L374.5 501.8L377.0 499.9L379.5 497.6L382.0 496.1L384.5 493.4L387.0 491.5L389.5 488.5L392.0 486.4L394.5 484.5L397.0 482.8L399.5 481.3L402.0 480.0L404.5 478.8L407.0 477.8L409.5 476.2L412.0 475.3L414.5 473.6L417.0 472.7L419.5 471.2L422.0 468.9L424.5 467.4L427.0 466.3L429.5 464.8L432.0 462.8L434.5 462.0L437.0 460.9L439.5 459.0L442.0 457.6L444.5 456.5L447.0 455.6L449.5 453.8L452.0 452.6L454.5 451.3L457.0 450.6L459.5 449.3L462.0 448.0L464.5 447.1L467.0 445.7L469.5 444.9L472.0 444.4L474.5 443.0L477.0 441.7L479.5 441.4L482.0 439.9L484.5 439.0L487.0 438.0L489.5 437.3L492.0 436.6L494.5 435.9L497.0 435.7L499.5 434.5L502.0 433.9L504.5 433.7L507.0 433.4L509.5 432.5L512.0 432.5L514.5 431.8L517.0 431.7L519.5 431.4L522.0 431.4L524.5 431.0L527.0 430.5L529.5 430.7L532.0 430.2L534.5 430.2L537.0 430.7L539.5 430.4L542.0 430.6L544.5 430.2L547.0 430.8L549.5 430.6L552.0 430.3L554.5 430.9L557.0 430.5L559.5 430.4L562.0 430.3L564.5 430.1L567.0 430.2L569.5 430.7L572.0 430.2L574.5 430.3L577.0 430.5L579.5 430.5L582.0 430.4L584.5 430.8L587.0 430.3L589.5 430.5L592.0 430.6L594.5 430.3L597.0 430.5L599.5 430.5L602.0 431.1L604.5 430.6L607.0 431.2L609.5 431.0L612.0 431.5L614.5 431.7L617.0 431.7L619.5 432.4L622.0 432.4L624.5 432.5L627.0 432.2L629.5 432.7L632.0 432.8L634.5 433.2L637.0 433.7L639.5 433.9L642.0 433.3L644.5 434.1L647.0 434.5L649.5 434.3L652.0 434.1L654.5 434.9L657.0 434.7L659.5 435.4L662.0 435.5L664.5 435.7L667.0 436.0L669.5 435.5L672.0 436.5L674.5 436.3L677.0 436.5L679.5 437.1L682.0 437.6L684.5 437.5L687.0 438.2L689.5 438.9L692.0 439.1L694.5 439.5L697.0 439.7L699.5 440.6L702.0 440.2L704.5 440.8L707.0 441.0L709.5 440.7L712.0 441.8L714.5 441.3L717.0 442.2L719.5 442.3L722.0 442.5L724.5 442.7L727.0 442.6L729.5 442.9L732.0 443.0L734.5 443.7L737.0 443.0L739.5 443.2L742.0 443.8L744.5 443.2L747.0 442.5L749.5 441.9L752.0 440.7L754.5 440.2L757.0 439.2L759.5 439.1L762.0 437.8L764.5 437.6L767.0 437.2L769.5 436.8L772.0 436.0L774.5 435.8L777.0 435.6L779.5 434.7L782.0 434.1L784.5 433.6L787.0 434.1L789.5 433.5L792.0 433.1L794.5 433.0L797.0 432.3L799.5 432.1L802.0 431.7L804.5 431.3L807.0 431.2L809.5 430.0L812.0 429.0L814.5 428.9L817.0 427.7L819.5 426.4L822.0 426.2L824.5 425.5L827.0 424.8L829.5 424.3L832.0 423.5L834.5 422.8L837.0 422.8L839.5 422.2L842.0 421.8L844.5 420.9L847.0 420.6L849.5 420.4L852.0 419.7L854.5 419.4L857.0 418.8L859.5 418.5L862.0 417.6L864.5 417.1L867.0 416.7L869.5 415.4L872.0 414.4L874.5 413.9L877.0 412.5L879.5 412.2L882.0 410.7L884.5 410.3L887.0 409.1L889.5 407.9L892.0 407.3L894.5 406.6L897.0 405.6L899.5 404.8L902.0 403.7L904.5 403.4L907.0 401.8L909.5 401.5L912.0 399.9L914.5 399.5L917.0 398.2L919.5 397.4L922.0 396.9L924.5 396.3L927.0 394.9L929.5 394.1L932.0 393.3L934.5 392.6L937.0 391.5L939.5 390.7L942.0 390.3L944.5 389.2L947.0 388.2L949.5 387.8L952.0 387.2L954.5 385.9L957.0 384.7L959.5 384.1L962.0 383.8L964.5 382.3L967.0 381.5L969.5 381.1L972.0 379.7L974.5 379.6L977.0 378.3L979.5 377.8L982.0 377.4L984.5 376.4L987.0 376.5L989.5 375.7L992.0 375.5L994.5 375.0L997.0 373.9L999.5 374.1L1002.0 373.6L1004.5 372.5L1007.0 372.3L1009.5 371.4L1012.0 371.2L1014.5 370.8L1017.0 369.9L1019.5 369.4L1022.0 368.4L1024.5 368.3L1027.0 367.2L1029.5 366.2L1032.0 364.1L1034.5 363.2L1037.0 361.1L1039.5 360.3L1042.0 358.9L1044.5 358.6L1047.0 356.9L1049.5 356.4L1052.0 355.6L1054.5 354.7L1057.0 353.7L1059.5 353.6L1062.0 353.2L1064.5 352.1L1067.0 351.9L1069.5 350.9L1072.0 350.2L1074.5 349.8L1077.0 349.8L1079.5 349.1L1082.0 348.4L1084.5 347.4L1087.0 347.3L1089.5 346.5L1092.0 346.1L1094.5 346.0L1097.0 345.5L1099.5 344.9L1102.0 345.0L1104.5 344.9L1107.0 344.7L1109.5 344.3L1112.0 343.6L1114.5 343.1L1117.0 343.5L1119.5 342.7L1122.0 342.4L1124.5 342.6L1127.0 342.1L1129.5 342.2L1132.0 341.7L1134.5 341.7L1137.0 340.8L1139.5 341.2L1142.0 340.6L1144.5 340.5L1147.0 339.9L1149.5 339.6L1152.0 339.3L1154.5 338.9L1157.0 339.4L1159.5 338.3L1162.0 338.1L1164.5 338.1L1167.0 337.4L1169.5 337.0L1172.0 336.7L1174.5 336.2L1177.0 335.6L1179.5 335.8L1182.0 335.3L1184.5 334.5L1187.0 334.6L1189.5 333.8L1192.0 333.0L1194.5 333.2L1197.0 332.0L1199.5 332.0L1202.0 331.5L1204.5 330.2L1207.0 330.5L1209.5 329.5L1212.0 329.0L1214.5 328.8L1217.0 327.8L1219.5 327.0L1222.0 326.2L1224.5 326.3L1227.0 325.4L1229.5 325.0L1232.0 324.4L1234.5 324.1L1237.0 323.5L1239.5 323.0L1242.0 322.1L1244.5 322.0L1247.0 320.9L1249.5 320.3L1252.0 320.2L1254.5 319.2L1257.0 319.6L1259.5 318.5L1262.0 318.1L1264.5 317.5L1267.0 317.1L1269.5 316.8L1272.0 316.6L1274.5 315.4L1277.0 315.3L1279.5 314.7L1282.0 314.9L1284.5 314.0L1287.0 313.6L1289.5 313.6L1292.0 312.7L1294.5 312.2L1297.0 311.8L1299.5 311.3L1302.0 311.3L1304.5 310.5L1307.0 310.3L1309.5 310.0L1312.0 309.8L1314.5 309.4L1317.0 308.8L1319.5 308.8L1322.0 308.4L1324.5 308.1L1327.0 307.5L1329.5 307.0L1332.0 306.5L1334.5 306.7L1337.0 306.0L1339.5 305.9L1342.0 305.3L1344.5 305.0L1347.0 304.4L1349.5 304.7L1352.0 304.1L1354.5 304.0L1357.0 303.9L1359.5 303.8L1362.0 303.6L1364.5 303.1L1367.0 302.4L1369.5 302.8L1372.0 301.7L1374.5 301.8L1377.0 302.0L1379.5 301.6L1382.0 301.1L1384.5 301.1L1387.0 300.2L1389.5 299.8L1392.0 299.7L1394.5 300.0L1397.0 298.9L1399.5 298.9L1402.0 298.8L1404.5 298.2L1407.0 298.6L1409.5 297.6L1412.0 297.3L1414.5 297.8L1417.0 296.7L1419.5 296.6L1422.0 296.5L1424.5 296.6L1427.0 295.8L1429.5 295.8L1432.0 295.7L1434.5 295.3L1437.0 295.2L1439.5 294.2L1442.0 294.4L1444.5 293.7L1447.0 294.2L1449.5 293.2L1452.0 293.0L1454.5 293.1L1457.0 293.0L1459.5 292.2L1462.0 292.6L1464.5 291.8L1467.0 291.8L1469.5 291.3L1472.0 291.7L1474.5 291.5L1477.0 291.2L1479.5 290.6L1482.0 290.3L1484.5 290.6L1487.0 290.2L1489.5 290.1L1492.0 289.4L1494.5 289.5L1497.0 289.1L1499.5 288.9L1502.0 288.5L1504.5 288.4L1507.0 287.9L1509.5 287.5L1512.0 287.4L1514.5 286.7L1517.0 287.0L1519.5 286.5L1522.0 286.0L1524.5 286.3L1527.0 285.7L1529.5 285.2L1532.0 285.4L1534.5 285.1L1537.0 284.3L1539.5 284.0L1542.0 283.1L1544.5 282.9L1547.0 283.0L1549.5 281.9L1552.0 281.7L1554.5 280.1L1557.0 279.4L1559.5 278.7L1562.0 277.9L1564.5 277.7L1567.0 277.2L1569.5 276.2L1572.0 275.3L1574.5 274.3L1577.0 273.6L1579.5 272.7L1582.0 272.2L1584.5 271.4L1587.0 271.5L1589.5 270.7L1592.0 270.2L1594.5 270.3L1597.0 269.5L1599.5 269.8L1602.0 269.5L1604.5 269.3L1607.0 269.1L1609.5 269.0L1612.0 269.1L1614.5 269.0L1617.0 268.5L1619.5 268.8L1622.0 268.0L1624.5 268.5L1627.0 268.3L1629.5 267.9L1632.0 267.3L1634.5 267.8L1637.0 267.1L1639.5 266.8L1642.0 267.1L1644.5 266.0L1647.0 266.2L1649.5 265.6L1652.0 265.8L1654.5 264.9L1657.0 264.5L1659.5 264.5L1662.0 264.1L1664.5 264.1L1667.0 263.3L1669.5 263.1L1672.0 262.8L1674.5 262.8L1677.0 262.2L1679.5 262.4L1682.0 262.5L1684.5 262.3L1687.0 261.8L1689.5 261.9L1692.0 261.4L1694.5 261.7L1697.0 261.9L1699.5 261.1L1702.0 261.6L1704.5 261.8L1707.0 261.1L1709.5 261.1L1712.0 261.3L1714.5 260.8L1717.0 260.8L1719.5 261.0L1722.0 260.8L1724.5 260.4L1727.0 260.3L1729.5 260.4L1732.0 260.5L1734.5 259.6L1737.0 259.7L1739.5 259.2L1742.0 258.6L1744.5 258.4L1747.0 258.4L1749.5 257.4L1752.0 257.5L1754.5 257.2L1757.0 256.6L1759.5 256.7L1762.0 256.2L1764.5 256.3L1767.0 255.7L1769.5 256.0L1772.0 256.1L1774.5 256.0L1777.0 255.9L1779.5 255.1L1782.0 255.4L1784.5 254.9L1787.0 255.1L1789.5 254.7L1792.0 254.8L1794.5 254.4L1797.0 254.7L1799.5 254.2L1802.0 254.3L1804.5 253.6L1807.0 254.0L1809.5 253.4L1812.0 253.5L1814.5 253.3L1817.0 253.5L1819.5 253.3L1822.0 252.9L1824.5 253.4L1827.0 252.5L1829.5 252.7L1832.0 252.3L1834.5 252.2L1837.0 252.2L1839.5 252.7L1842.0 251.8L1844.5 252.3L1847.0 252.1L1849.5 252.2L1852.0 252.1L1854.5 251.3L1857.0 251.9L1859.5 251.1L1862.0 251.0L1864.5 251.0L1867.0 251.3L1869.5 251.1L1872.0 251.1L1874.5 250.5L1877.0 250.6L1879.5 250.4L1882.0 250.8L1884.5 250.3L1887.0 250.3L1889.5 249.9L1892.0 249.4L1894.5 249.1L1897.0 249.0L1899.5 249.2L1902.0 248.5L1904.5 248.4L1907.0 248.0L1909.5 247.6L1912.0 247.5L1914.5 247.3L1917.0 247.4L1919.5 247.0L1922.0 246.4L1924.5 246.1L1927.0 245.8L1929.5 245.7L1932.0 245.6L1934.5 245.8L1937.0 244.8L1939.5 244.7L1942.0 244.7L1944.5 244.7L1947.0 244.1L1949.5 243.8L1952.0 244.1L1954.5 243.5L1957.0 244.1L1959.5 243.8L1962.0 243.6L1964.5 244.0L1967.0 243.5L1969.5 243.9L1972.0 243.2L1974.5 243.1L1977.0 243.4L1979.5 243.5L1982.0 243.7L1984.5 243.2L1987.0 243.7L1989.5 243.3L1992.0 243.9L1994.5 243.8L1997.0 243.8L1999.5 243.1L2002.0 243.2L2004.5 243.1L2007.0 243.5L2009.5 243.2L2012.0 243.3L2014.5 243.2L2017.0 244.1L2019.5 243.6L2022.0 243.4L2024.5 243.3L2027.0 243.5L2029.5 243.3L2032.0 244.0L2034.5 244.1L2037.0 244.1L2039.5 243.4L2042.0 243.9L2044.5 244.2L2047.0 243.8L2049.5 244.2L2052.0 243.5L2054.5 244.0L2056.0 244.2" stroke="#4B8ABE"/>
<path d="M252.0 525.3L254.5 523.7L257.0 523.6L259.5 522.3L262.0 522.2L264.5 520.5L267.0 520.4L269.5 519.3L272.0 518.6L274.5 517.8L277.0 516.2L279.5 515.3L282.0 514.7L284.5 513.2L287.0 512.1L289.5 510.9L292.0 510.3L294.5 509.1L297.0 507.9L299.5 506.3L302.0 505.8L304.5 504.5L307.0 503.4L309.5 502.8L312.0 502.0L314.5 500.9L317.0 500.5L319.5 499.6L322.0 499.1L324.5 498.8L327.0 498.0L329.5 497.3L332.0 497.4L334.5 497.2L337.0 496.4L339.5 496.6L342.0 495.4L344.5 495.3L347.0 495.1L349.5 495.5L352.0 495.1L354.5 495.0L357.0 494.4L359.5 494.5L362.0 494.7L364.5 494.0L367.0 494.0L369.5 493.9L372.0 494.3L374.5 494.6L377.0 494.4L379.5 494.3L382.0 494.5L384.5 494.2L387.0 494.9L389.5 494.5L392.0 494.4L394.5 494.5L397.0 495.0L399.5 494.6L402.0 495.2L404.5 494.7L407.0 494.8L409.5 494.5L412.0 495.3L414.5 495.2L417.0 494.9L419.5 494.6L422.0 494.9L424.5 494.8L427.0 495.3L429.5 495.4L432.0 495.2L434.5 494.9L437.0 494.7L439.5 495.5L442.0 495.5L444.5 494.9L447.0 495.3L449.5 495.6L452.0 496.5L454.5 496.1L457.0 496.6L459.5 497.7L462.0 497.6L464.5 497.6L467.0 497.8L469.5 497.6L472.0 497.7L474.5 497.3L477.0 497.1L479.5 496.9L482.0 497.2L484.5 497.4L487.0 497.1L489.5 497.0L492.0 497.2L494.5 497.2L497.0 497.0L499.5 496.7L502.0 497.1L504.5 496.9L507.0 496.9L509.5 496.8L512.0 495.8L514.5 496.2L517.0 495.6L519.5 495.3L522.0 495.1L524.5 494.4L527.0 494.1L529.5 494.3L532.0 493.3L534.5 493.3L537.0 492.6L539.5 491.8L542.0 491.2L544.5 490.8L547.0 490.3L549.5 489.3L552.0 488.3L554.5 487.7L557.0 487.6L559.5 486.7L562.0 485.3L564.5 485.0L567.0 483.9L569.5 482.7L572.0 482.3L574.5 480.7L577.0 479.8L579.5 479.2L582.0 478.7L584.5 477.8L587.0 477.0L589.5 476.6L592.0 475.4L594.5 475.1L597.0 473.6L599.5 473.6L602.0 472.2L604.5 471.8L607.0 471.1L609.5 470.1L612.0 469.1L614.5 468.1L617.0 467.4L619.5 466.2L622.0 465.2L624.5 464.6L627.0 463.8L629.5 462.8L632.0 462.5L634.5 461.9L637.0 461.0L639.5 460.7L642.0 460.0L644.5 458.7L647.0 458.2L649.5 457.2L652.0 455.9L654.5 454.6L657.0 453.3L659.5 452.2L662.0 451.3L664.5 451.0L667.0 449.3L669.5 449.1L672.0 448.1L674.5 447.3L677.0 445.8L679.5 445.5L682.0 444.2L684.5 443.8L687.0 443.0L689.5 442.1L692.0 441.1L694.5 440.5L697.0 439.1L699.5 438.2L702.0 438.0L704.5 436.3L707.0 435.7L709.5 434.8L712.0 434.1L714.5 432.5L717.0 431.5L719.5 430.5L722.0 429.7L724.5 429.0L727.0 428.3L729.5 427.8L732.0 427.1L734.5 426.5L737.0 426.5L739.5 426.0L742.0 424.9L744.5 425.0L747.0 423.7L749.5 423.5L752.0 423.4L754.5 422.2L757.0 422.1L759.5 421.8L762.0 420.8L764.5 420.1L767.0 419.1L769.5 418.9L772.0 418.2L774.5 417.9L777.0 416.9L779.5 416.7L782.0 415.7L784.5 415.2L787.0 414.7L789.5 413.5L792.0 413.6L794.5 412.5L797.0 411.8L799.5 411.5L802.0 410.5L804.5 409.7L807.0 408.7L809.5 408.0L812.0 407.8L814.5 406.9L817.0 406.3L819.5 405.7L822.0 405.0L824.5 404.0L827.0 403.9L829.5 402.9L832.0 402.0L834.5 402.0L837.0 401.4L839.5 400.1L842.0 400.2L844.5 399.4L847.0 398.5L849.5 398.2L852.0 398.0L854.5 396.8L857.0 396.8L859.5 396.0L862.0 395.6L864.5 395.9L867.0 395.7L869.5 395.1L872.0 394.9L874.5 394.3L877.0 394.0L879.5 393.9L882.0 393.8L884.5 393.4L887.0 392.8L889.5 392.6L892.0 392.0L894.5 392.0L897.0 391.6L899.5 391.1L902.0 390.3L904.5 389.9L907.0 389.9L909.5 388.9L912.0 388.7L914.5 387.7L917.0 387.3L919.5 386.8L922.0 386.7L924.5 385.8L927.0 385.7L929.5 384.6L932.0 384.6L934.5 384.1L937.0 383.1L939.5 382.5L942.0 381.9L944.5 381.4L947.0 380.5L949.5 379.9L952.0 379.7L954.5 379.1L957.0 377.7L959.5 377.3L962.0 376.7L964.5 376.3L967.0 375.3L969.5 374.5L972.0 374.1L974.5 373.5L977.0 372.8L979.5 372.1L982.0 371.7L984.5 370.4L987.0 370.5L989.5 369.4L992.0 369.0L994.5 368.5L997.0 368.0L999.5 367.6L1002.0 367.0L1004.5 366.3L1007.0 365.8L1009.5 365.5L1012.0 365.3L1014.5 364.3L1017.0 363.4L1019.5 363.7L1022.0 363.2L1024.5 362.7L1027.0 362.0L1029.5 361.3L1032.0 360.6L1034.5 360.9L1037.0 360.0L1039.5 359.3L1042.0 359.2L1044.5 358.2L1047.0 358.1L1049.5 357.8L1052.0 357.5L1054.5 356.6L1057.0 356.0L1059.5 355.7L1062.0 355.6L1064.5 354.5L1067.0 354.1L1069.5 353.8L1072.0 353.8L1074.5 353.3L1077.0 352.9L1079.5 351.6L1082.0 351.5L1084.5 350.7L1087.0 350.6L1089.5 350.3L1092.0 349.5L1094.5 349.3L1097.0 348.8L1099.5 348.1L1102.0 347.5L1104.5 346.9L1107.0 346.9L1109.5 346.6L1112.0 346.1L1114.5 345.6L1117.0 345.0L1119.5 344.4L1122.0 343.7L1124.5 342.9L1127.0 343.0L1129.5 342.0L1132.0 342.1L1134.5 341.6L1137.0 340.5L1139.5 340.6L1142.0 339.9L1144.5 339.4L1147.0 338.3L1149.5 337.9L1152.0 337.2L1154.5 337.4L1157.0 336.2L1159.5 335.9L1162.0 335.6L1164.5 334.8L1167.0 334.4L1169.5 333.9L1172.0 333.1L1174.5 333.0L1177.0 332.3L1179.5 331.8L1182.0 331.2L1184.5 330.6L1187.0 329.6L1189.5 329.7L1192.0 329.2L1194.5 327.9L1197.0 327.6L1199.5 326.8L1202.0 326.2L1204.5 326.1L1207.0 325.4L1209.5 324.6L1212.0 324.3L1214.5 323.9L1217.0 322.9L1219.5 322.8L1222.0 322.2L1224.5 321.8L1227.0 321.4L1229.5 320.7L1232.0 319.7L1234.5 318.9L1237.0 318.5L1239.5 317.8L1242.0 317.9L1244.5 316.8L1247.0 316.4L1249.5 315.9L1252.0 315.1L1254.5 314.9L1257.0 314.0L1259.5 313.3L1262.0 312.3L1264.5 311.8L1267.0 311.6L1269.5 310.8L1272.0 310.3L1274.5 310.0L1277.0 309.3L1279.5 309.0L1282.0 308.1L1284.5 307.4L1287.0 307.2L1289.5 307.5L1292.0 306.5L1294.5 306.1L1297.0 305.8L1299.5 306.4L1302.0 305.4L1304.5 305.0L1307.0 305.0L1309.5 304.5L1312.0 304.9L1314.5 304.6L1317.0 304.2L1319.5 304.2L1322.0 303.3L1324.5 303.8L1327.0 303.3L1329.5 303.2L1332.0 302.3L1334.5 302.7L1337.0 302.4L1339.5 301.6L1342.0 301.2L1344.5 301.0L1347.0 300.8L1349.5 300.2L1352.0 299.9L1354.5 299.8L1357.0 299.2L1359.5 298.5L1362.0 298.6L1364.5 298.1L1367.0 297.0L1369.5 297.0L1372.0 296.5L1374.5 296.1L1377.0 295.8L1379.5 295.8L1382.0 295.3L1384.5 294.6L1387.0 294.1L1389.5 293.8L1392.0 293.6L1394.5 293.4L1397.0 293.0L1399.5 292.6L1402.0 292.3L1404.5 291.7L1407.0 292.0L1409.5 291.0L1412.0 290.7L1414.5 290.6L1417.0 290.5L1419.5 289.7L1422.0 289.6L1424.5 288.9L1427.0 288.4L1429.5 288.9L1432.0 287.8L1434.5 288.1L1437.0 287.1L1439.5 287.1L1442.0 287.0L1444.5 287.0L1447.0 286.7L1449.5 285.9L1452.0 285.4L1454.5 285.8L1457.0 285.5L1459.5 285.4L1462.0 284.5L1464.5 284.7L1467.0 284.4L1469.5 284.4L1472.0 284.1L1474.5 283.8L1477.0 283.6L1479.5 282.7L1482.0 283.3L1484.5 282.7L1487.0 282.7L1489.5 281.8L1492.0 281.9L1494.5 282.0L1497.0 281.9L1499.5 281.3L1502.0 281.3L1504.5 280.3L1507.0 280.2L1509.5 280.1L1512.0 280.4L1514.5 280.1L1517.0 279.6L1519.5 279.8L1522.0 279.3L1524.5 278.7L1527.0 279.2L1529.5 278.8L1532.0 278.9L1534.5 278.5L1537.0 278.0L1539.5 278.2L1542.0 277.3L1544.5 277.0L1547.0 277.0L1549.5 277.5L1552.0 276.5L1554.5 276.9L1557.0 276.5L1559.5 276.0L1562.0 275.9L1564.5 276.1L1567.0 275.7L1569.5 275.9L1572.0 275.0L1574.5 275.3L1577.0 275.4L1579.5 274.7L1582.0 274.6L1584.5 274.7L1587.0 274.2L1589.5 274.5L1592.0 274.6L1594.5 274.0L1597.0 273.7L1599.5 274.2L1602.0 273.4L1604.5 274.0L1607.0 273.5L1609.5 273.7L1612.0 273.3L1614.5 273.7L1617.0 273.3L1619.5 273.2L1622.0 272.6L1624.5 273.0L1627.0 272.5L1629.5 272.9L1632.0 272.4L1634.5 272.2L1637.0 272.0L1639.5 272.0L1642.0 271.8L1644.5 271.8L1647.0 271.9L1649.5 272.1L1652.0 271.9L1654.5 271.4L1657.0 271.8L1659.5 271.2L1662.0 271.2L1664.5 271.2L1667.0 271.1L1669.5 270.9L1672.0 271.0L1674.5 270.4L1677.0 270.4L1679.5 270.4L1682.0 270.4L1684.5 270.2L1687.0 270.4L1689.5 269.9L1692.0 270.1L1694.5 270.1L1697.0 270.1L1699.5 269.7L1702.0 270.1L1704.5 269.8L1707.0 270.2L1709.5 269.4L1712.0 269.6L1714.5 269.9L1717.0 270.0L1719.5 269.8L1722.0 269.8L1724.5 269.3L1727.0 269.1L1729.5 269.0L1732.0 269.3L1734.5 269.3L1737.0 269.0L1739.5 268.7L1742.0 269.3L1744.5 268.7L1747.0 268.6L1749.5 269.0L1752.0 268.9L1754.5 268.7L1757.0 268.7L1759.5 268.5L1762.0 268.4L1764.5 268.1L1767.0 267.8L1769.5 268.3L1772.0 267.3L1774.5 267.7L1777.0 266.9L1779.5 267.0L1782.0 266.7L1784.5 266.2L1787.0 265.1L1789.5 265.5L1792.0 264.5L1794.5 264.2L1797.0 264.5L1799.5 264.1L1802.0 263.3L1804.5 263.7L1807.0 263.1L1809.5 263.3L1812.0 263.3L1814.5 262.5L1817.0 262.5L1819.5 262.4L1822.0 262.3L1824.5 262.9L1827.0 262.0L1829.5 262.2L1832.0 262.6L1834.5 261.8L1837.0 262.1L1839.5 262.3L1842.0 262.3L1844.5 262.1L1847.0 261.3L1849.5 261.2L1852.0 261.8L1854.5 261.4L1857.0 261.3L1859.5 261.4L1862.0 261.4L1864.5 260.9L1867.0 261.4L1869.5 260.7L1872.0 261.1L1874.5 260.3L1877.0 260.1L1879.5 260.5L1882.0 260.5L1884.5 260.2L1887.0 259.6L1889.5 260.2L1892.0 260.0L1894.5 259.7L1897.0 259.3L1899.5 258.4L1902.0 258.6L1904.5 258.0L1907.0 257.8L1909.5 257.7L1912.0 257.7L1914.5 257.2L1917.0 257.2L1919.5 256.3L1922.0 255.7L1924.5 256.1L1927.0 255.8L1929.5 255.2L1932.0 254.7L1934.5 254.8L1937.0 254.2L1939.5 254.0L1942.0 253.8L1944.5 253.7L1947.0 253.4L1949.5 252.5L1952.0 252.5L1954.5 252.3L1957.0 251.8L1959.5 251.4L1962.0 251.4L1964.5 251.4L1967.0 251.5L1969.5 251.7L1972.0 251.0L1974.5 251.2L1977.0 250.9L1979.5 250.8L1982.0 250.9L1984.5 251.0L1987.0 251.3L1989.5 250.8L1992.0 251.3L1994.5 251.2L1997.0 250.8L1999.5 251.2L2002.0 250.6L2004.5 250.4L2007.0 250.8L2009.5 250.9L2012.0 250.9L2014.5 250.3L2017.0 250.2L2019.5 250.8L2022.0 251.0L2024.5 250.6L2027.0 250.8L2029.5 250.2L2032.0 250.1L2034.5 250.4L2037.0 250.8L2039.5 250.0L2042.0 250.3L2044.5 250.4L2047.0 249.8L2049.5 250.5L2052.0 249.9L2054.5 250.4L2056.0 250.2" stroke="#629A3E"/>
</g>
<g class="yl"><text transform="translate(197.5,773.2) scale(1.05,1)">0</text><text transform="translate(197,693.6) scale(1.05,1)">10</text><text transform="translate(197,613.9) scale(1.05,1)">20</text><text transform="translate(197,534.3) scale(1.05,1)">30</text><text transform="translate(197,454.6) scale(1.05,1)">40</text><text transform="translate(197,375.0) scale(1.05,1)">50</text><text transform="translate(197,295.3) scale(1.05,1)">60</text><text transform="translate(197,215.7) scale(1.05,1)">70</text></g>
<g class="xl"><text transform="translate(254.2,854.8) scale(1.04,1)">400</text><text transform="translate(554.2,854.8) scale(1.04,1)">450</text><text transform="translate(854.2,854.8) scale(1.04,1)">500</text><text transform="translate(1154.2,854.8) scale(1.04,1)">550</text><text transform="translate(1454.2,854.8) scale(1.04,1)">600</text><text transform="translate(1754.2,854.8) scale(1.04,1)">650</text><text transform="translate(2054.2,854.8) scale(1.04,1)">700</text></g>
<g stroke-width="7" fill="none">
<line x1="311" y1="72.4" x2="394" y2="72.4" stroke="#D46F2B"/>
<line x1="870.6" y1="72.4" x2="954" y2="72.4" stroke="#939393"/>
<line x1="1432" y1="72.4" x2="1506.5" y2="72.4" stroke="#E0AA02"/>
<line x1="311" y1="163" x2="396.5" y2="163" stroke="#4B8ABE"/>
<line x1="870.6" y1="163" x2="956" y2="163" stroke="#629A3E"/>
</g>
<g class="leg">
<text x="428" y="85">Position 1</text>
<text x="988" y="85">Position 2</text>
<text x="1538" y="88">Position 3</text>
<text x="431" y="164">Position 4</text>
<text x="990" y="164">Position 5</text>
</g>
<rect x="675.5" y="78.6" width="10.9" height="7" fill="#fff"/><rect x="694.9" y="78.6" width="10" height="7" fill="#fff"/>
<text class="xt2" x="838" y="974.5" textLength="434.5" lengthAdjust="spacingAndGlyphs">Wavelength</text>
<text class="br" transform="translate(1290.7,969.5) scale(1.3,1)" x="0" y="0">[</text>
<text class="xt2" x="1321" y="974.5">nm</text>
<text class="br" transform="translate(1460.5,969.5) scale(1.3,1)" x="-17.1" y="0">]</text>
<text class="yt" transform="translate(96.4,795.8) rotate(-90)" textLength="439" lengthAdjust="spacingAndGlyphs">Reflectance</text>
<text class="ytb" transform="translate(93,324.8) rotate(-90)" x="-4">[</text>
<text class="ytp" transform="translate(96.4,296) rotate(-90) scale(0.815,0.87)" x="-3">%</text>
<text class="ytb" transform="translate(93,235.8) rotate(-90)" x="-2">]</text>
</svg>
</body></html>
